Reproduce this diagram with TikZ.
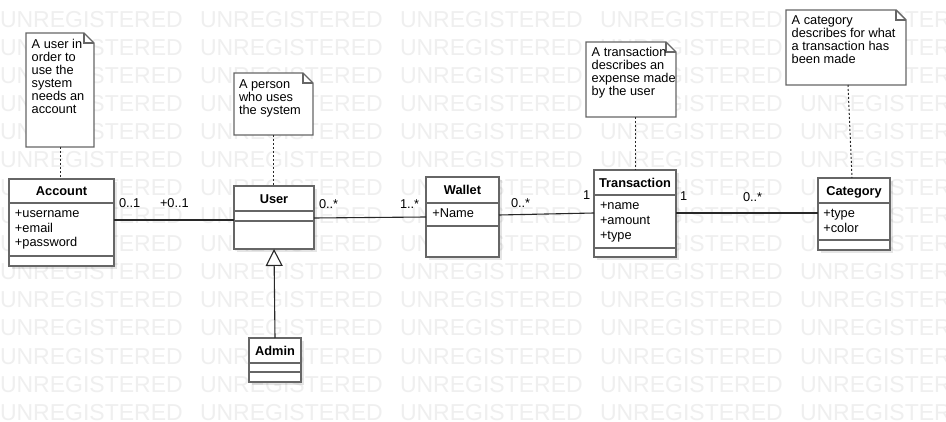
\documentclass[tikz,border=0pt]{standalone}
\usepackage{fontspec}
\setmainfont{Liberation Sans}
\usetikzlibrary{arrows.meta,calc,shadows}
\definecolor{boxgray}{RGB}{102,102,102}
\definecolor{linedark}{RGB}{40,40,40}
\definecolor{wmgray}{RGB}{239,239,239}
\begin{document}
\begin{tikzpicture}[x=1pt,y=-1pt,
  every node/.style={font=\fontsize{12.8}{15}\selectfont, inner sep=0pt, outer sep=0pt},
  umlclass/.style={draw=boxgray, line width=1.6pt, fill=white, rectangle,
    drop shadow={shadow xshift=3pt, shadow yshift=-3pt, fill=black, opacity=0.1}},
  divider/.style={draw=boxgray, line width=1.6pt},
  notebody/.style={rectangle, draw=none},
  noteline/.style={draw=boxgray, line width=1.4pt, fill=white, line join=miter},
  txt/.style={anchor=base west},
  hdr/.style={font=\bfseries\fontsize{12.8}{15}\selectfont, text height=9.2pt, text depth=0pt},
  assoc/.style={draw=linedark, line width=1.1pt},
  dotline/.style={draw=linedark, line width=1pt, dash pattern=on 2pt off 2pt},
  wm/.style={anchor=base west, text=wmgray, font=\fontsize{23}{26}\selectfont}
]
\useasboundingbox (0,0) rectangle (946,422);
\fill[white] (0,0) rectangle (946,422);
\clip (0,0) rectangle (946,422);

% watermark
\foreach \r in {0,...,14}
  \foreach \c in {0,...,4}
    \node[wm] (wm-\r-\c) at ({200*\c}, {28+28*\r}) {UNREGISTERED};

% notes
\node[notebody, minimum width=68pt, minimum height=114pt] (note1) at (60,90) {};
\node[notebody, minimum width=79pt, minimum height=62pt] (note2) at (273.5,104) {};
\node[notebody, minimum width=90pt, minimum height=75pt] (note3) at (631,79.5) {};
\node[notebody, minimum width=120pt, minimum height=75pt] (note4) at (846,47.5) {};
\foreach \n in {note1,note2,note3,note4}{
  \draw[noteline] (\n.north west) -- ($(\n.north east)+(-10,0)$) -- ($(\n.north east)+(0,10)$)
     -- (\n.south east) -- (\n.south west) -- cycle;
  \draw[noteline, fill=none] ($(\n.north east)+(-10,0)$) -- ($(\n.north east)+(-10,10)$) -- ($(\n.north east)+(0,10)$);
}
\foreach \t [count=\i from 0] in {A user in, order to, use the, system, needs an, account}
  \node[txt] (note1-\i) at (31.7, {49+12.9*\i}) {\t};
\foreach \t [count=\i from 0] in {A person, who uses, the system}
  \node[txt] (note2-\i) at (239, {89+12.7*\i}) {\t};
\foreach \t [count=\i from 0] in {A transaction, describes an, expense made, by the user}
  \node[txt] (note3-\i) at (591.7, {56.7+13*\i}) {\t};
\foreach \t [count=\i from 0] in {A category, describes for what, a transaction has, been made}
  \node[txt] (note4-\i) at (791.7, {24.7+13*\i}) {\t};

% classes
\node[umlclass, minimum width=105pt, minimum height=87pt] (account) at (61.5,222.5) {};
\node[umlclass, minimum width=80pt, minimum height=63pt] (user) at (274,217.5) {};
\node[umlclass, minimum width=73pt, minimum height=80pt] (wallet) at (462.5,217) {};
\node[umlclass, minimum width=82pt, minimum height=87pt] (transaction) at (635,213.5) {};
\node[umlclass, minimum width=72pt, minimum height=72pt] (category) at (854,214) {};
\node[umlclass, minimum width=52pt, minimum height=44pt] (admin) at (275,360) {};

% dividers
\draw[divider] ($(account.north west)+(0,24)$) -- ($(account.north east)+(0,24)$);
\draw[divider] ($(account.north west)+(0,77)$) -- ($(account.north east)+(0,77)$);
\draw[divider] ($(user.north west)+(0,25)$) -- ($(user.north east)+(0,25)$);
\draw[divider] ($(user.north west)+(0,35)$) -- ($(user.north east)+(0,35)$);
\draw[divider] ($(wallet.north west)+(0,26)$) -- ($(wallet.north east)+(0,26)$);
\draw[divider] ($(wallet.north west)+(0,49)$) -- ($(wallet.north east)+(0,49)$);
\draw[divider] ($(transaction.north west)+(0,25)$) -- ($(transaction.north east)+(0,25)$);
\draw[divider] ($(transaction.north west)+(0,78)$) -- ($(transaction.north east)+(0,78)$);
\draw[divider] ($(category.north west)+(0,25)$) -- ($(category.north east)+(0,25)$);
\draw[divider] ($(category.north west)+(0,62)$) -- ($(category.north east)+(0,62)$);
\draw[divider] ($(admin.north west)+(0,25)$) -- ($(admin.north east)+(0,25)$);
\draw[divider] ($(admin.north west)+(0,34)$) -- ($(admin.north east)+(0,34)$);

% headers
\node[hdr] (accountH) at (61.5,191) {Account};
\node[hdr] (userH) at (274,198.5) {User};
\node[hdr] (walletH) at (462.5,190) {Wallet};
\node[hdr] (transactionH) at (635,182.5) {Transaction};
\node[hdr] (categoryH) at (854,190.5) {Category};
\node[hdr] (adminH) at (275,350.5) {Admin};

% attributes
\node[txt] (acc1) at (15,217.5) {+username};
\node[txt] (acc2) at (15,232.1) {+email};
\node[txt] (acc3) at (15,246.7) {+password};
\node[txt] (wal1) at (432.3,217.5) {+Name};
\node[txt] (tra1) at (600,209.7) {+name};
\node[txt] (tra2) at (600,224.8) {+amount};
\node[txt] (tra3) at (600,239.9) {+type};
\node[txt] (cat1) at (823.3,217.5) {+type};
\node[txt] (cat2) at (823.3,232.3) {+color};

% associations
\draw[assoc] ($(account.north east)+(0,41)$) -- ($(user.north west)+(0,34)$);
\draw[assoc] ($(user.north east)+(0,32)$) -- ($(wallet.north west)+(0,40)$);
\draw[assoc] ($(wallet.north east)+(0,38)$) -- ($(transaction.north west)+(0,43)$);
\draw[assoc] ($(transaction.north east)+(0,43)$) -- ($(category.north west)+(0,35)$);
\draw[assoc, -{Triangle[length=17pt, width=17pt, fill=white]}] (admin.north) -- (user.south);

% multiplicities
\node[txt] (m1) at (119,208) {0..1};
\node[txt] (m2) at (160,208) {+0..1};
\node[txt] (m3) at (319,208.5) {0..*};
\node[txt] (m4) at (400,208.5) {1..*};
\node[txt] (m5) at (511,207.5) {0..*};
\node[txt] (m6) at (583,199.5) {1};
\node[txt] (m7) at (680,201) {1};
\node[txt] (m8) at (743,201.5) {0..*};

% note anchors
\draw[dotline] (note1.south) -- (note1.south |- account.north);
\draw[dotline] (note2.south) -- (note2.south |- user.north);
\draw[dotline] (transaction.north |- note3.south) -- (transaction.north);
\draw[dotline] ($(note4.south)+(2,0)$) -- ($(category.north)+(-2,0)$);
\end{tikzpicture}
\end{document}
